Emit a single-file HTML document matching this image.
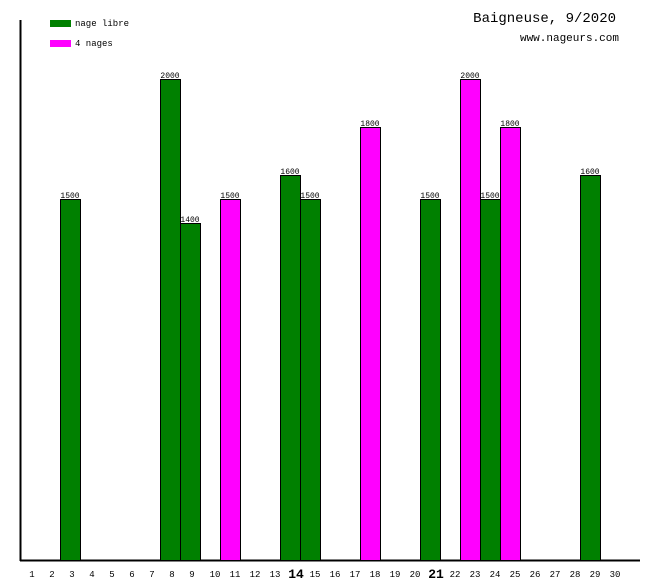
<!DOCTYPE html><html><head><style>body{margin:0;background:#fff}svg{display:block}text{font-family:"Liberation Mono","DejaVu Sans Mono",monospace}</style></head><body>
<svg width="660" height="580" xmlns="http://www.w3.org/2000/svg">
<rect width="660" height="580" fill="#fff"/>
<line x1="20.5" y1="20" x2="20.5" y2="561" stroke="#000" stroke-width="2"/>
<line x1="20" y1="560.5" x2="640" y2="560.5" stroke="#000" stroke-width="2"/>
<rect x="50" y="20" width="21" height="7" fill="#008000"/>
<text x="75" y="26" font-size="9">nage libre</text>
<rect x="50" y="40" width="21" height="7" fill="#ff00ff"/>
<text x="75" y="46" font-size="9">4 nages</text>
<text x="616" y="22" font-size="14" text-anchor="end">Baigneuse, 9/2020</text>
<text x="619" y="41" font-size="11" text-anchor="end">www.nageurs.com</text>
<g stroke="#000" stroke-width="1">
<rect x="60.5" y="199.5" width="20" height="361" fill="#008000"/>
<rect x="160.5" y="79.5" width="20" height="481" fill="#008000"/>
<rect x="180.5" y="223.5" width="20" height="337" fill="#008000"/>
<rect x="220.5" y="199.5" width="20" height="361" fill="#ff00ff"/>
<rect x="280.5" y="175.5" width="20" height="385" fill="#008000"/>
<rect x="300.5" y="199.5" width="20" height="361" fill="#008000"/>
<rect x="360.5" y="127.5" width="20" height="433" fill="#ff00ff"/>
<rect x="420.5" y="199.5" width="20" height="361" fill="#008000"/>
<rect x="460.5" y="79.5" width="20" height="481" fill="#ff00ff"/>
<rect x="480.5" y="199.5" width="20" height="361" fill="#008000"/>
<rect x="500.5" y="127.5" width="20" height="433" fill="#ff00ff"/>
<rect x="580.5" y="175.5" width="20" height="385" fill="#008000"/>
</g>
<g font-size="8" text-anchor="middle">
<text x="70" y="198">1500</text><text x="170" y="78">2000</text><text x="190" y="222">1400</text>
<text x="230" y="198">1500</text><text x="290" y="174">1600</text><text x="310" y="198">1500</text>
<text x="370" y="126">1800</text><text x="430" y="198">1500</text><text x="470" y="78">2000</text>
<text x="490" y="198">1500</text><text x="510" y="126">1800</text><text x="590" y="174">1600</text>
</g>
<g font-size="9" text-anchor="middle">
<text x="32" y="577">1</text><text x="52" y="577">2</text><text x="72" y="577">3</text><text x="92" y="577">4</text><text x="112" y="577">5</text><text x="132" y="577">6</text><text x="152" y="577">7</text><text x="172" y="577">8</text><text x="192" y="577">9</text><text x="215" y="577">10</text><text x="235" y="577">11</text><text x="255" y="577">12</text><text x="275" y="577">13</text><text x="296" y="578" font-size="13" font-weight="bold">14</text><text x="315" y="577">15</text><text x="335" y="577">16</text><text x="355" y="577">17</text><text x="375" y="577">18</text><text x="395" y="577">19</text><text x="415" y="577">20</text><text x="436" y="578" font-size="13" font-weight="bold">21</text><text x="455" y="577">22</text><text x="475" y="577">23</text><text x="495" y="577">24</text><text x="515" y="577">25</text><text x="535" y="577">26</text><text x="555" y="577">27</text><text x="575" y="577">28</text><text x="595" y="577">29</text><text x="615" y="577">30</text>
</g>
</svg></body></html>
